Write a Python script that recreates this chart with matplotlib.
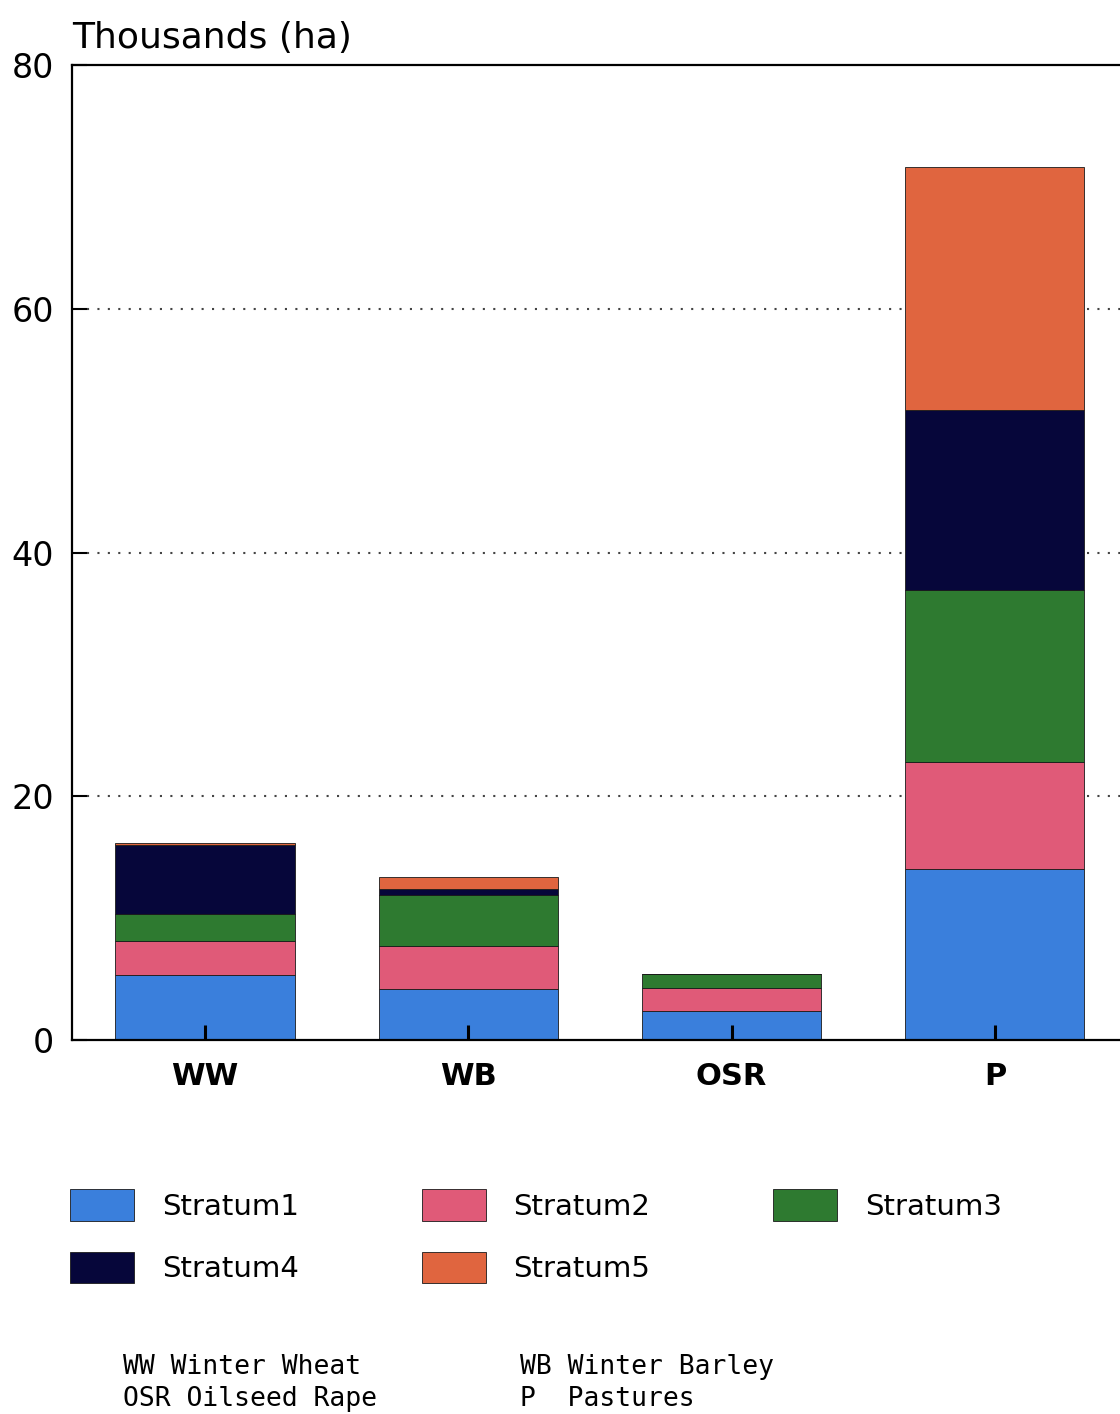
import matplotlib.pyplot as plt
import numpy as np

# Crop areas by stratum, thousands of hectares
crops = ["WW", "WB", "OSR", "P"]
strata = ["Stratum1", "Stratum2", "Stratum3", "Stratum4", "Stratum5"]
stratum1 = [5.3, 4.2, 2.4, 14.0]
stratum2 = [2.8, 3.5, 1.9, 8.8]
stratum3 = [2.2, 4.2, 1.1, 14.1]
stratum4 = [5.7, 0.5, 0.0, 14.8]
stratum5 = [0.2, 1.0, 0.0, 19.9]
colors = ["#3a7fdc", "#e05a78", "#2e7a30", "#06063a", "#e0653f"]
yticks = [0, 20, 40, 60, 80]

fig = plt.figure(figsize=(11.2, 14.14), dpi=100)
ax = fig.add_axes([72 / 1120, 1 - 1040 / 1414, 1.1, (1040 - 65) / 1414])

# dotted guide lines sit behind the bars; axis ticks go on top
for yv in yticks[1:-1]:
    ax.axhline(yv, xmin=0.012, linestyle=(0, (1, 4)), color="#444444",
               linewidth=1.5, zorder=0.5)

x = np.arange(len(crops))
bottom = np.zeros(len(crops))
bars = []
for vals, col in zip([stratum1, stratum2, stratum3, stratum4, stratum5], colors):
    b = ax.bar(x, vals, 0.68, bottom=bottom, color=col,
               edgecolor="#1a1a1a", linewidth=0.6, zorder=1)
    bars.append(b)
    bottom += np.array(vals)

ax.set_xlim(-0.505, 3 + (72 + 1.1 * 1120 - 995) / 263.3)
ax.set_ylim(0, 80)
ax.set_yticks(yticks)
ax.set_xticks(x)
ax.set_xticklabels(crops, fontsize=22, fontweight="bold")
ax.tick_params(axis="y", direction="in", length=11, width=1.5,
               labelsize=24, pad=13)
ax.tick_params(axis="x", direction="in", length=11, width=2.2, pad=16)
ax.set_axisbelow(False)
for side in ["left", "bottom", "top"]:
    ax.spines[side].set_linewidth(1.6)
ax.spines["right"].set_visible(False)

ax.text(0, 1.01, "Thousands (ha)", transform=ax.transAxes, fontsize=26,
        ha="left", va="bottom")

# legend: column-wise fill -> S1,S4 | S2,S5 | S3
order = [0, 3, 1, 4, 2]
fig.legend([bars[i] for i in order], [strata[i] for i in order],
           ncol=3, loc="upper left", bbox_to_anchor=(44 / 1120, 1 - 1163 / 1414),
           frameon=False, fontsize=21, handlelength=2.2, handleheight=1.3,
           handletextpad=0.95, columnspacing=4.2, labelspacing=1.05)

fig.text(123 / 1120, 1 - 1383 / 1414, "WW Winter Wheat\nOSR Oilseed Rape",
         family="DejaVu Sans Mono", fontsize=19, va="center", linespacing=1.27)
fig.text(520 / 1120, 1 - 1383 / 1414, "WB Winter Barley\nP  Pastures",
         family="DejaVu Sans Mono", fontsize=19, va="center", linespacing=1.27)

fig.savefig("out.png", dpi=100)
